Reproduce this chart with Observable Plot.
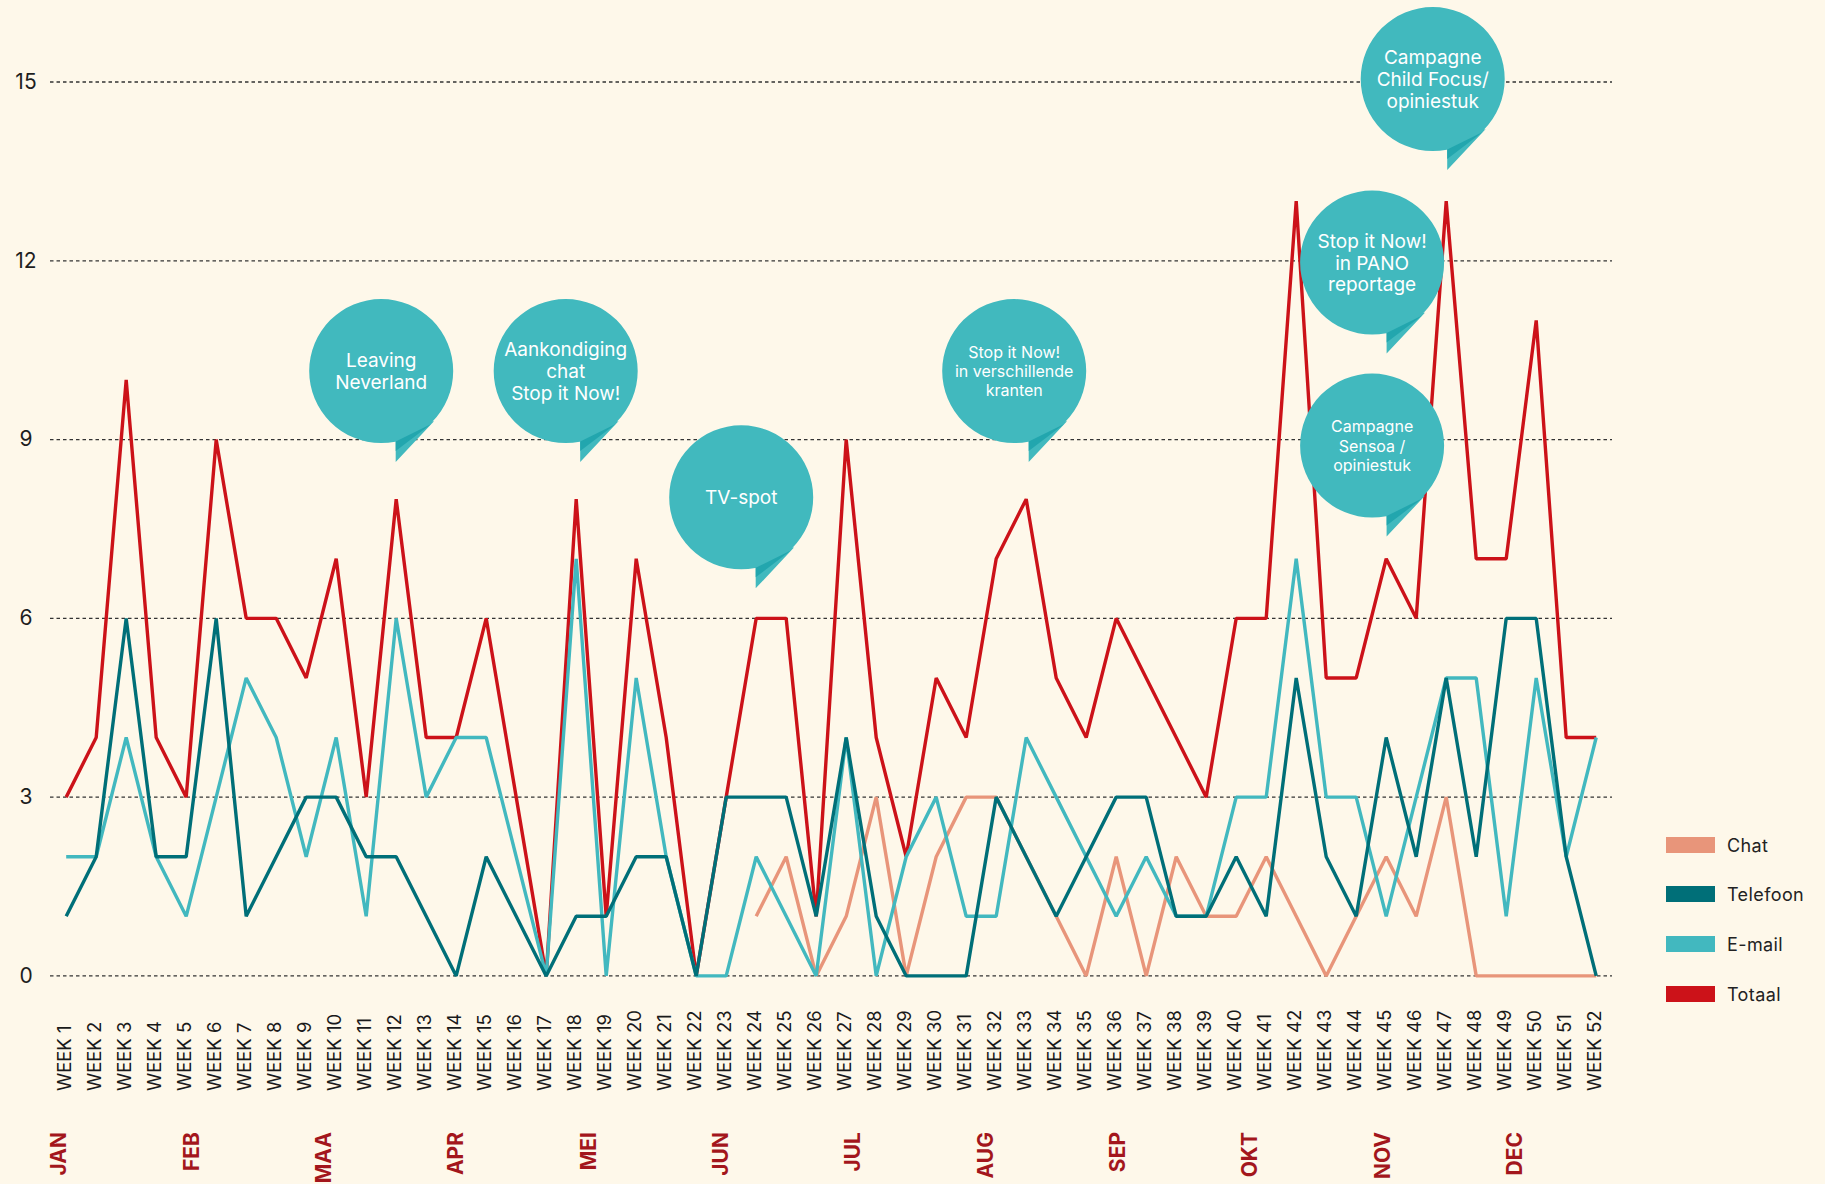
<!DOCTYPE html>
<html>
<head>
<meta charset="utf-8">
<script src="https://cdn.jsdelivr.net/npm/d3@7"></script>
<script src="https://cdn.jsdelivr.net/npm/@observablehq/plot@0.6"></script>
<style>
  html, body { margin: 0; padding: 0; background: #fef8ea; }
  #wrap { position: relative; width: 1825px; height: 1184px; font-family: Inter, "DejaVu Sans", sans-serif; }
  #legend { position: absolute; left: 1666px; top: 0; }
  #legend .item { position: absolute; left: 0; display: flex; align-items: center; white-space: nowrap; height: 16px; }
  #legend .sw { width: 49px; height: 16px; margin-right: 12px; }
  #legend .lb { font-size: 18px; color: #222; letter-spacing: 0.4px; }
  g[aria-label="week-labels"] text { letter-spacing: 1.9px; }
  g[aria-label="bubble-text-big"] text { letter-spacing: 0.8px; }
  g[aria-label="bubble-text-small"] text { letter-spacing: 0.7px; }
</style>
</head>
<body>
<div id="wrap"><div id="legend"></div></div>
<script>
// ---------- data ----------
const weeks = [1,2,3,4,5,6,7,8,9,10,11,12,13,14,15,16,17,18,19,20,21,22,23,24,25,26,
               27,28,29,30,31,32,33,34,35,36,37,38,39,40,41,42,43,44,45,46,47,48,49,50,51,52];
const months = ["JAN","FEB","MAA","APR","MEI","JUN","JUL","AUG","SEP","OKT","NOV","DEC"];
const yTicks = [0, 3, 6, 9, 12, 15];

const chat = [null,null,null,null,null,null,null,null,null,null,
              null,null,null,null,null,null,null,null,null,null,
              null,null,null,1,2,0,1,3,0,2,
              3,3,2,1,0,2,0,2,1,1,
              2,1,0,1,2,1,3,0,0,0,
              0,0];
const telefoon = [1,2,6,2,2,6,1,2,3,3,
                  2,2,1,0,2,1,0,1,1,2,
                  2,0,3,3,3,1,4,1,0,0,
                  0,3,2,1,2,3,3,1,1,2,
                  1,5,2,1,4,2,5,2,6,6,
                  2,0];
const email = [2,2,4,2,1,3,5,4,2,4,
               1,6,3,4,4,2,0,7,0,5,
               2,0,0,2,1,0,4,0,2,3,
               1,1,4,3,2,1,2,1,1,3,
               3,7,3,3,1,3,5,5,1,5,
               2,4];
const totaal = [3,4,10,4,3,9,6,6,5,7,
                3,8,4,4,6,3,0,8,1,7,
                4,0,3,6,6,1,9,4,2,5,
                4,7,8,5,4,6,5,4,3,6,
                6,13,5,5,7,6,13,7,7,11,
                4,4];

const seriesNames = ["Chat", "Telefoon", "E-mail", "Totaal"];
const seriesColors = ["#e8957a", "#006f78", "#42b8bf", "#cc1219"];

// annotation bubbles: text, week and level where the bubble sits
const annoText = ["Leaving\nNeverland",
                  "Aankondiging\nchat\nStop it Now!",
                  "TV-spot",
                  "Stop it Now!\nin verschillende\nkranten",
                  "Stop it Now!\nin PANO\nreportage",
                  "Campagne\nSensoa /\nopiniestuk",
                  "Campagne\nChild Focus/\nopiniestuk"];
const annoWeek = [11.5, 17.65, 23.5, 32.6, 44.53, 44.53, 46.55];
const annoLevel = [10.15, 10.15, 8.03, 10.15, 11.97, 8.9, 15.05];

// ---------- drawing ----------
const annoIdx = annoText.map((d, i) => i);
const smallIdx = annoIdx.filter(i => i === 3 || i === 5);
const bigIdx = annoIdx.filter(i => i !== 3 && i !== 5);

const bubbleSymbol = {
  draw(ctx, size) {
    const R = Math.sqrt(size / Math.PI), k = R / 72;
    ctx.moveTo(R, 0);
    ctx.arc(0, 0, R, 0, 2 * Math.PI);
    ctx.closePath();
    ctx.moveTo(14.5 * k, 64 * k);
    ctx.lineTo(53 * k, 50 * k);
    ctx.lineTo(14.5 * k, 91 * k);
    ctx.closePath();
  }
};
const foldSymbol = {
  draw(ctx, size) {
    const R = Math.sqrt(size / Math.PI), k = R / 72;
    ctx.moveTo(14.5 * k, 70.5 * k);
    ctx.lineTo(50 * k, 53 * k);
    ctx.lineTo(14.5 * k, 80 * k);
    ctx.closePath();
  }
};

const seriesData = [chat, telefoon, email, totaal];
const drawOrder = [3, 0, 2, 1]; // Totaal, Chat, E-mail, Telefoon (top)

const lineMarks = drawOrder.map(s => Plot.line(weeks, {
  x: d => d,
  y: (d, i) => seriesData[s][i],
  stroke: seriesColors[s],
  strokeWidth: 3.4,
  strokeLinejoin: "miter",
  strokeLinecap: "butt"
}));

const chart = Plot.plot({
  width: 1825,
  height: 1184,
  marginLeft: 50,
  marginRight: 213,
  marginTop: 81.5,
  marginBottom: 208.6,
  x: { domain: [0.477, 52.543], axis: null },
  y: { domain: [0, 15], axis: null },
  style: { background: "#fef8ea", fontFamily: "Inter, 'DejaVu Sans', sans-serif", overflow: "visible" },
  marks: [
    Plot.ruleY(yTicks, { y: d => d, stroke: "#333", strokeWidth: 1.3, strokeDasharray: "3.5,3" }),
    Plot.text(yTicks, { y: d => d, text: d => String(d), frameAnchor: "left", dx: -24.5, textAnchor: "middle", fontSize: 21, fill: "#1e1e1e" }),
    ...lineMarks,
    Plot.text(weeks, { x: d => d, text: d => "WEEK " + d, frameAnchor: "bottom", dx: 5, dy: 115.2, rotate: -90, textAnchor: "start", fontSize: 18.5, fill: "#1a1a1a", ariaLabel: "week-labels" }),
    Plot.text(months, { x: (d, i) => 0.81 + i * 4.41, text: d => d, frameAnchor: "bottom", dx: 6, dy: 156.1, rotate: -90, textAnchor: "end", fontSize: 21, fontWeight: 700, fill: "#a3161c" }),
    Plot.dot(annoIdx, { x: i => annoWeek[i], y: i => annoLevel[i], r: 72, symbol: bubbleSymbol, fill: "#41b9be", stroke: "none" }),
    Plot.dot(annoIdx, { x: i => annoWeek[i], y: i => annoLevel[i], r: 72, symbol: foldSymbol, fill: "#22a6ae", stroke: "none" }),
    Plot.text(bigIdx, { x: i => annoWeek[i], y: i => annoLevel[i], text: i => annoText[i], fill: "white", fontSize: 19, lineHeight: 1.14, ariaLabel: "bubble-text-big" }),
    Plot.text(smallIdx, { x: i => annoWeek[i], y: i => annoLevel[i], text: i => annoText[i], fill: "white", fontSize: 16, lineHeight: 1.2, ariaLabel: "bubble-text-small" })
  ]
});
document.getElementById("wrap").prepend(chart);

// legend (HTML)
const legend = document.getElementById("legend");
const legendTops = [837, 886, 936, 986];
seriesNames.forEach((name, i) => {
  const item = document.createElement("div");
  item.className = "item";
  item.style.top = legendTops[i] + "px";
  item.innerHTML = `<div class="sw" style="background:${seriesColors[i]}"></div><div class="lb">${name}</div>`;
  legend.appendChild(item);
});
</script>
</body>
</html>
